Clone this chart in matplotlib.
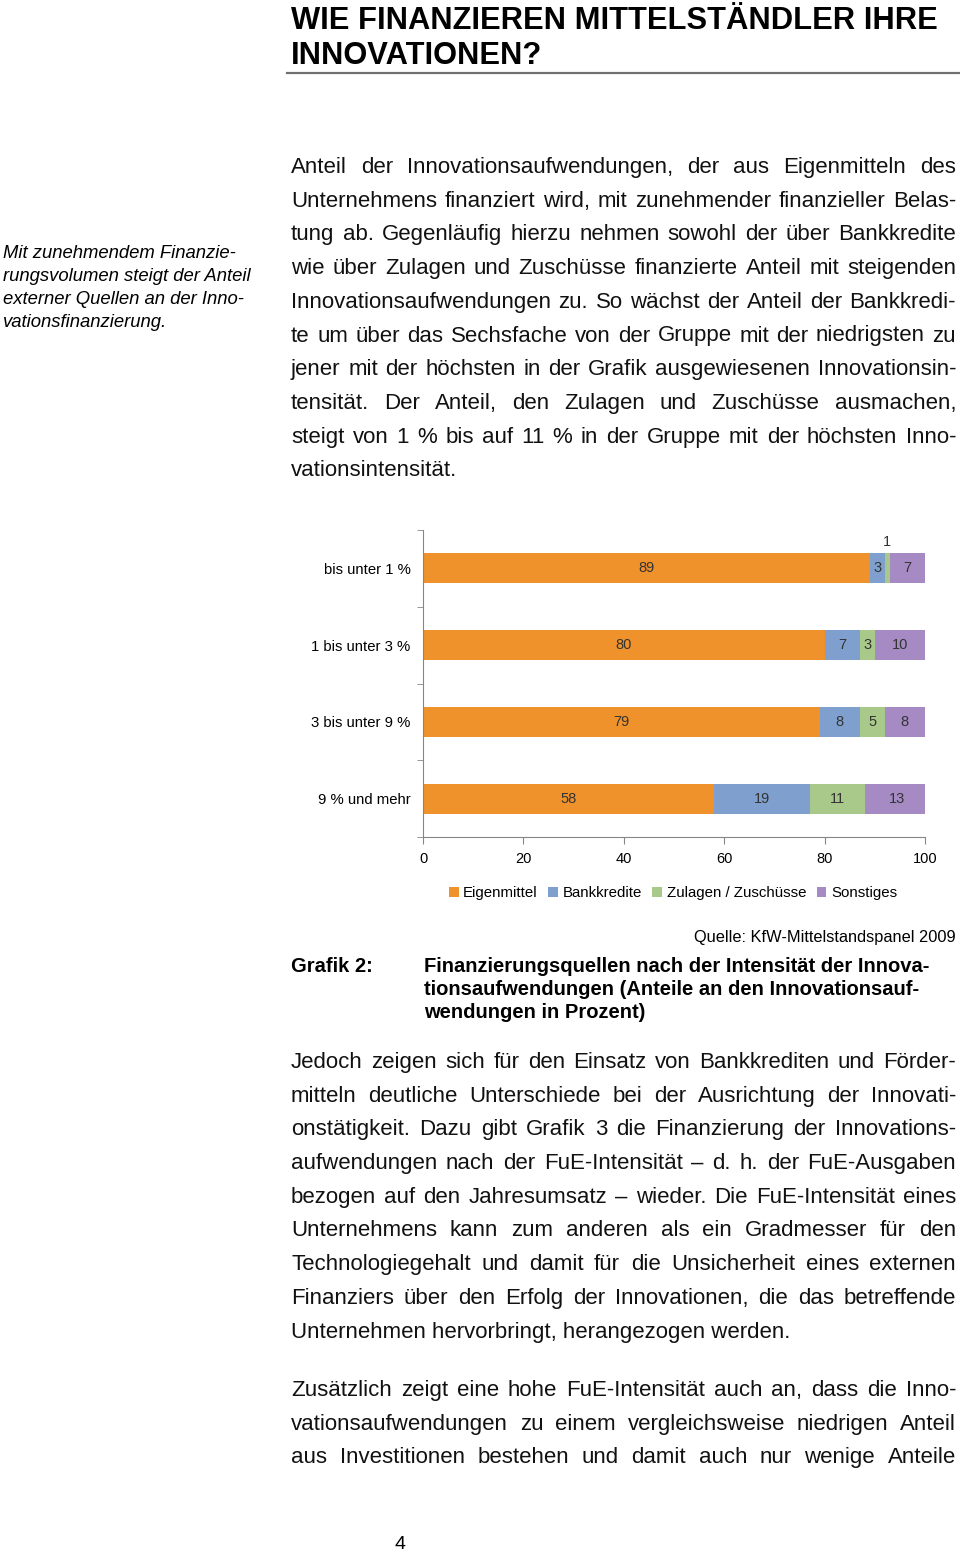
import matplotlib
matplotlib.use("Agg")
import matplotlib.pyplot as plt
from matplotlib import font_manager

# chart data
categories = ["bis unter 1 %", "1 bis unter 3 %", "3 bis unter 9 %", "9 % und mehr"]
series_names = ["Eigenmittel", "Bankkredite", "Zulagen / Zuschüsse", "Sonstiges"]
eigenmittel = [89, 80, 79, 58]
bankkredite = [3, 7, 8, 19]
zulagen = [1, 3, 5, 11]
sonstiges = [7, 10, 8, 13]
colors = ["#EF922B", "#7FA0CE", "#A9C98B", "#A68AC4"]
xticks = [0, 20, 40, 60, 80, 100]

# page text
title_lines = ["WIE FINANZIEREN MITTELSTÄNDLER IHRE", "INNOVATIONEN?"]
side_lines = ["Mit zunehmendem Finanzie-", "rungsvolumen steigt der Anteil",
              "externer Quellen an der Inno-", "vationsfinanzierung."]
para1 = ["Anteil der Innovationsaufwendungen, der aus Eigenmitteln des",
         "Unternehmens finanziert wird, mit zunehmender finanzieller Belas-",
         "tung ab. Gegenläufig hierzu nehmen sowohl der über Bankkredite",
         "wie über Zulagen und Zuschüsse finanzierte Anteil mit steigenden",
         "Innovationsaufwendungen zu. So wächst der Anteil der Bankkredi-",
         "te um über das Sechsfache von der Gruppe mit der niedrigsten zu",
         "jener mit der höchsten in der Grafik ausgewiesenen Innovationsin-",
         "tensität. Der Anteil, den Zulagen und Zuschüsse ausmachen,",
         "steigt von 1 % bis auf 11 % in der Gruppe mit der höchsten Inno-",
         "vationsintensität."]
para2 = ["Jedoch zeigen sich für den Einsatz von Bankkrediten und Förder-",
         "mitteln deutliche Unterschiede bei der Ausrichtung der Innovati-",
         "onstätigkeit. Dazu gibt Grafik 3 die Finanzierung der Innovations-",
         "aufwendungen nach der FuE-Intensität – d. h. der FuE-Ausgaben",
         "bezogen auf den Jahresumsatz – wieder. Die FuE-Intensität eines",
         "Unternehmens kann zum anderen als ein Gradmesser für den",
         "Technologiegehalt und damit für die Unsicherheit eines externen",
         "Finanziers über den Erfolg der Innovationen, die das betreffende",
         "Unternehmen hervorbringt, herangezogen werden."]
para3 = ["Zusätzlich zeigt eine hohe FuE-Intensität auch an, dass die Inno-",
         "vationsaufwendungen zu einem vergleichsweise niedrigen Anteil",
         "aus Investitionen bestehen und damit auch nur wenige Anteile"]
caption_lines = ["Finanzierungsquellen nach der Intensität der Innova-",
                 "tionsaufwendungen (Anteile an den Innovationsauf-",
                 "wendungen in Prozent)"]

W, H = 960, 1554
names = {f.name for f in font_manager.fontManager.ttflist}
narrow = "Liberation Sans Narrow" in names
NARROW = ["Liberation Sans Narrow", "Liberation Sans", "DejaVu Sans"]
REG = ["Liberation Sans", "DejaVu Sans"]

fig = plt.figure(figsize=(W / 100, H / 100), dpi=100)
renderer = fig.canvas.get_renderer()


def fx(x):
    return x / W


def fy(y):
    return 1 - y / H


def justify(lines, x0, x1, y0, dy, size, last_left=True):
    # y0 is the baseline of the first line
    for i, line in enumerate(lines):
        y = y0 + i * dy
        if last_left and i == len(lines) - 1:
            fig.text(fx(x0), fy(y), line, fontsize=size, family=REG,
                     va="baseline", color="#111111")
            continue
        words = line.split(" ")
        texts = [fig.text(0, 0, w, fontsize=size, family=REG, va="baseline",
                          color="#111111") for w in words]
        widths = [t.get_window_extent(renderer).width for t in texts]
        gap = (x1 - x0 - sum(widths)) / (len(words) - 1)
        x = x0
        for t, w in zip(texts, widths):
            t.set_position((fx(x), fy(y)))
            x += w + gap


# title
tsize = 26 if narrow else 22.2
for i, line in enumerate(title_lines):
    fig.text(fx(291), fy(29 + i * 35), line, fontsize=tsize, family=NARROW,
             weight="bold", va="baseline")
fig.add_artist(plt.Line2D([fx(287), fx(960)], [fy(73), fy(73)],
                          color="#707070", lw=1.6))

# side note
for i, line in enumerate(side_lines):
    fig.text(fx(3), fy(258 + i * 23), line, fontsize=13.3, family=REG,
             style="italic", va="baseline")

justify(para1, 291, 956, 173, 33.7, 16)
justify(para2, 291, 956, 1068, 33.7, 16)
justify(para3, 291, 956, 1396, 33.7, 16, last_left=False)

# chart
ax = fig.add_axes([fx(423), fy(837), 502 / W, 307 / H])
ypos = list(range(len(categories)))
left = [0] * len(categories)
for name, vals, c in zip(series_names, [eigenmittel, bankkredite, zulagen, sonstiges], colors):
    ax.barh(ypos, vals, left=left, height=0.39, color=c, label=name)
    for y, l, v in zip(ypos, left, vals):
        if v >= 2:
            ax.text(l + v / 2, y, str(v), ha="center", va="center",
                    fontsize=10.5, family=REG, color="#333333")
        else:
            ax.text(l + v / 2, y - 0.34, str(v), ha="center", va="center",
                    fontsize=10.5, family=REG, color="#333333")
    left = [a + b for a, b in zip(left, vals)]

ax.set_xlim(0, 100)
ax.set_ylim(3.5, -0.5)
ax.set_xticks(xticks)
ax.set_xticklabels([str(t) for t in xticks], fontsize=10.5, family=REG)
ax.set_yticks(ypos)
ax.set_yticklabels(categories, fontsize=10.7, family=REG)
ax.set_yticks([-0.5, 0.5, 1.5, 2.5, 3.5], minor=True)
ax.tick_params(axis="y", which="major", length=0, pad=9)
ax.tick_params(axis="y", which="minor", length=4, color="#868686")
ax.tick_params(axis="x", length=5, color="#868686", pad=6)
for s in ["top", "right"]:
    ax.spines[s].set_visible(False)
for s in ["left", "bottom"]:
    ax.spines[s].set_color("#868686")

fig.legend(loc="center", bbox_to_anchor=(fx(673), fy(893)), ncol=4,
           frameon=False, handlelength=0.65, handleheight=0.65,
           handletextpad=0.3, columnspacing=0.7,
           prop={"size": 10.8, "family": REG})

# source and caption
qsize = 13 if narrow else 11.8
fig.text(fx(956), fy(942), "Quelle: KfW-Mittelstandspanel 2009", fontsize=qsize,
         family=NARROW, ha="right", va="baseline")
csize = 15 if narrow else 14.5
fig.text(fx(291), fy(972), "Grafik 2:", fontsize=csize, family=NARROW,
         weight="bold", va="baseline")
for i, line in enumerate(caption_lines):
    fig.text(fx(424), fy(972 + i * 23), line, fontsize=csize, family=NARROW,
             weight="bold", va="baseline")

fig.text(fx(400), fy(1549), "4", fontsize=14, family=REG, ha="center", va="baseline")

fig.savefig("out.png", dpi=100)
